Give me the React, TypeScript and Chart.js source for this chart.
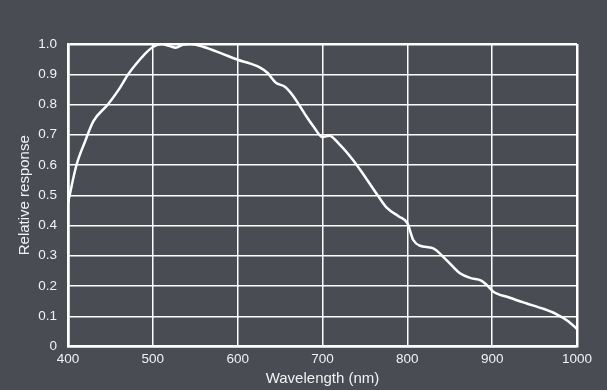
import React, { useEffect, useRef } from "react";
import { Chart, registerables } from "chart.js";

Chart.register(...registerables);

const wavelengths = [400, 410, 420, 430, 447, 460, 471, 480, 490, 500, 510, 520, 527, 535, 545, 560, 580, 600, 615, 626, 635, 645, 656, 665, 680, 690, 700, 708, 720, 735, 745, 765, 776, 790, 800, 807, 815, 830, 845, 862, 875, 887, 895, 901, 920, 940, 960, 975, 990, 1000];
const response = [0.475, 0.6, 0.677, 0.745, 0.8, 0.85, 0.9, 0.933, 0.965, 0.99, 1.0, 0.993, 0.988, 0.997, 1.0, 0.99, 0.97, 0.948, 0.935, 0.923, 0.905, 0.872, 0.858, 0.83, 0.765, 0.725, 0.692, 0.697, 0.668, 0.62, 0.582, 0.5, 0.458, 0.43, 0.408, 0.352, 0.333, 0.325, 0.289, 0.242, 0.226, 0.218, 0.2, 0.182, 0.162, 0.143, 0.125, 0.108, 0.083, 0.058];
const xTicks = [400, 500, 600, 700, 800, 900, 1000];
const yTicks = [0, 0.1, 0.2, 0.3, 0.4, 0.5, 0.6, 0.7, 0.8, 0.9, 1.0];
const xTitle = "Wavelength (nm)";
const yTitle = "Relative response";

const BG = "#4a4c54";
const FG = "#f2f2f2";
const FONT = "'Liberation Sans', Arial, sans-serif";

export default function App() {
  const ref = useRef<HTMLCanvasElement>(null);
  useEffect(() => {
    document.body.style.margin = "0";
    const ctx = ref.current!.getContext("2d")!;
    const chart = new Chart(ctx, {
      type: "line",
      data: {
        datasets: [
          {
            data: wavelengths.map((x, i) => ({ x, y: response[i] })),
            borderColor: "#ffffff",
            borderWidth: 2.5,
            pointRadius: 0,
            cubicInterpolationMode: "monotone",
            fill: false,
          },
        ],
      },
      options: {
        animation: false,
        responsive: false,
        devicePixelRatio: 1,
        layout: { padding: { left: 0, top: 44, right: 30, bottom: 0 } },
        plugins: { legend: { display: false }, tooltip: { enabled: false } },
        scales: {
          x: {
            type: "linear",
            min: 400,
            max: 1000,
            afterBuildTicks: (s: any) => {
              s.ticks = xTicks.map((v) => ({ value: v }));
            },
            afterFit: (s: any) => {
              s.height = 43.5;
            },
            grid: {
              color: "#ffffff",
              lineWidth: (c: any) => (c.tick && (c.tick.value === 1000 || c.tick.value === 400) ? 2.5 : 1.5),
              drawTicks: false,
            },
            border: { display: true, color: "#ffffff", width: 2.5 },
            ticks: {
              color: FG,
              font: { family: FONT, size: 13.5 },
              padding: 5,
              maxRotation: 0,
              callback: (v: any) => String(v),
            },
            title: {
              display: true,
              text: xTitle,
              color: FG,
              font: { family: FONT, size: 15 },
              padding: { top: 0, bottom: 2 },
            },
          },
          y: {
            type: "linear",
            min: 0,
            max: 1,
            afterBuildTicks: (s: any) => {
              s.ticks = yTicks.map((v) => ({ value: v }));
            },
            afterFit: (s: any) => {
              s.width = 68;
            },
            grid: {
              color: "#ffffff",
              lineWidth: (c: any) => (c.tick && (c.tick.value === 1 || c.tick.value === 0) ? 2.5 : 1.5),
              drawTicks: false,
            },
            border: { display: true, color: "#ffffff", width: 2.5 },
            ticks: {
              color: FG,
              font: { family: FONT, size: 13.5 },
              padding: 11,
              callback: (v: any) => (v === 0 ? "0" : Number(v).toFixed(1)),
            },
            title: {
              display: true,
              text: yTitle,
              color: FG,
              font: { family: FONT, size: 15 },
              padding: { top: 16, bottom: 4 },
            },
          },
        },
      },
    });
    return () => chart.destroy();
  }, []);
  return (
    <div style={{ position: "fixed", left: 0, top: 0, width: 607, height: 390, background: BG }}>
      <canvas ref={ref} width={607} height={390} style={{ width: 607, height: 390, display: "block" }} />
    </div>
  );
}
